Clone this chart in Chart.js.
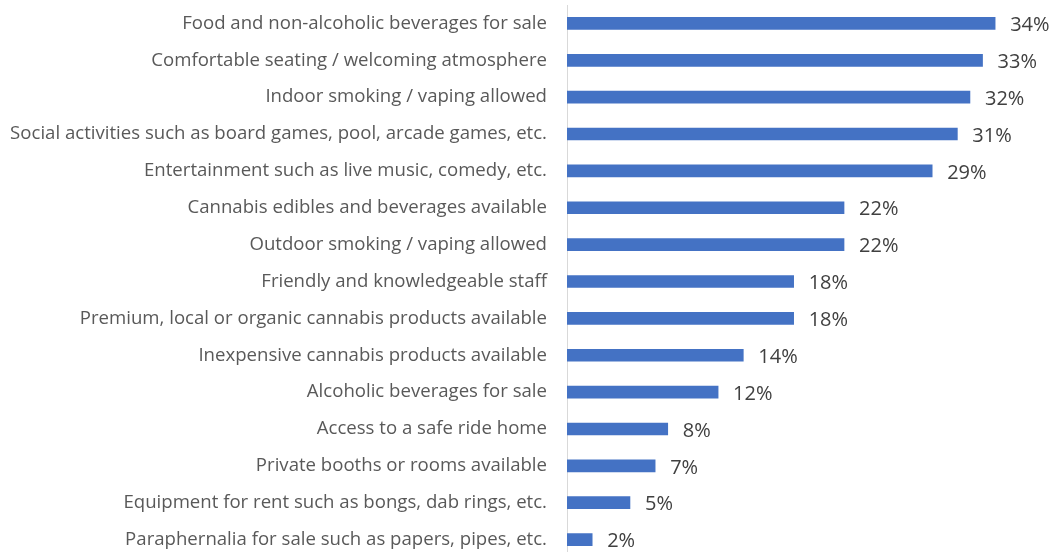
<!DOCTYPE html>
<html>
<head>
<meta charset="utf-8">
<script src="https://cdn.jsdelivr.net/npm/chart.js@4/dist/chart.umd.min.js"></script>
<style>
  html, body { margin: 0; padding: 0; background: #fff; overflow: hidden; }
  #wrap { width: 1054px; height: 558px; position: relative; }
</style>
</head>
<body>
<div id="wrap"><canvas id="c"></canvas></div>
<script>
const categories = [
  "Food and non-alcoholic beverages for sale",
  "Comfortable seating / welcoming atmosphere",
  "Indoor smoking / vaping allowed",
  "Social activities such as board games, pool, arcade games, etc.",
  "Entertainment such as live music, comedy, etc.",
  "Cannabis edibles and beverages available",
  "Outdoor smoking / vaping allowed",
  "Friendly and knowledgeable staff",
  "Premium, local or organic cannabis products available",
  "Inexpensive cannabis products available",
  "Alcoholic beverages for sale",
  "Access to a safe ride home",
  "Private booths or rooms available",
  "Equipment for rent such as bongs, dab rings, etc.",
  "Paraphernalia for sale such as papers, pipes, etc."
];
const percentages = [34, 33, 32, 31, 29, 22, 22, 18, 18, 14, 12, 8, 7, 5, 2];

const FONT = "'Open Sans', 'Liberation Sans', sans-serif";

// Writes the percentage just past the end of each bar
const valueLabels = {
  id: 'valueLabels',
  afterDatasetsDraw(chart) {
    const ctx = chart.ctx;
    const meta = chart.getDatasetMeta(0);
    ctx.save();
    ctx.font = "20px " + FONT;
    ctx.fillStyle = "#404040";
    ctx.textAlign = "left";
    ctx.textBaseline = "middle";
    meta.data.forEach((bar, i) => {
      ctx.fillText(percentages[i] + "%", bar.x + 15, bar.y + 2);
    });
    ctx.restore();
  }
};

new Chart(document.getElementById('c'), {
  type: 'bar',
  data: {
    labels: categories,
    datasets: [{
      data: percentages,
      backgroundColor: '#4472C4',
      borderWidth: 0,
      barThickness: 12
    }]
  },
  options: {
    indexAxis: 'y',
    responsive: true,
    maintainAspectRatio: false,
    animation: false,
    layout: { padding: { top: 5, right: 8.5, bottom: 0, left: 0 } },
    plugins: { legend: { display: false }, tooltip: { enabled: false } },
    scales: {
      x: {
        display: false,
        min: 0,
        max: 38
      },
      y: {
        grid: { display: false },
        border: { display: true, color: '#d9d9d9', width: 1 },
        ticks: {
          color: '#595959',
          padding: 12,
          font: { family: FONT, size: 18.6 }
        },
        afterFit(scale) {
          scale.width = 567;
          scale.paddingTop = 0;
          scale.paddingBottom = 0;
        }
      }
    }
  },
  plugins: [valueLabels]
});
</script>
</body>
</html>
